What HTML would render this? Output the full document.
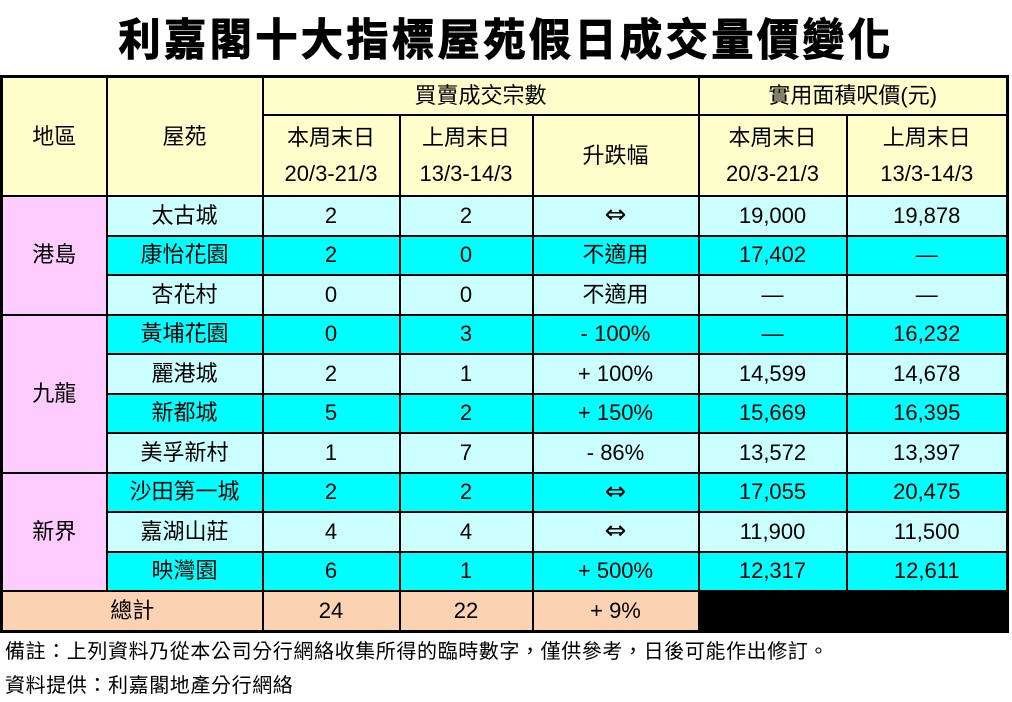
<!DOCTYPE html>
<html><head><meta charset="utf-8"><style>
body{margin:0;width:1012px;height:702px;background:#fff;position:relative;overflow:hidden;font-family:"Liberation Sans","Noto Sans CJK TC",sans-serif;color:#000}
.t{position:absolute;left:0;top:8px;width:1012px;text-align:center;font-size:44px;font-weight:bold;letter-spacing:3.5px;line-height:56px;font-family:"Noto Sans CJK TC","WenQuanYi Zen Hei",sans-serif;-webkit-text-stroke:1px #000;transform:scaleX(0.96)}
table{position:absolute;left:0px;top:75px;border-collapse:collapse;table-layout:fixed;width:1006px;border:3px solid #000}
td{border:2px solid #000;text-align:center;vertical-align:middle;font-size:22px;padding:0;line-height:26px;overflow:hidden}
.h{background:#ffffcc}.p{background:#ffccff}.l{background:#ccffff}.c{background:#00ffff}.o{background:#fbd3b3}.k{background:#000}
tr.d td{height:37.5px}
.a{font-size:26px;font-family:"DejaVu Sans",sans-serif}
.n{position:absolute;left:5px;font-size:20px;letter-spacing:0.6px;font-family:"Liberation Sans","Noto Sans CJK TC",sans-serif}
</style></head><body>
<div class="t">利嘉閣十大指標屋苑假日成交量價變化</div>
<table>
<colgroup><col style="width:105px"><col style="width:156px"><col style="width:137px"><col style="width:133px"><col style="width:166px"><col style="width:148px"><col style="width:161px"></colgroup>
<tr><td class="h" rowspan="2">地區</td><td class="h" rowspan="2">屋苑</td><td class="h" colspan="3" style="height:36px">買賣成交宗數</td><td class="h" colspan="2">實用面積呎價(元)</td></tr>
<tr><td class="h" style="height:79px;line-height:36px">本周末日<br>20/3-21/3</td><td class="h" style="line-height:36px">上周末日<br>13/3-14/3</td><td class="h">升跌幅</td><td class="h" style="line-height:36px">本周末日<br>20/3-21/3</td><td class="h" style="line-height:36px">上周末日<br>13/3-14/3</td></tr>
<tr class="d"><td class="p" rowspan="3">港島</td><td class="l">太古城</td><td class="l">2</td><td class="l">2</td><td class="l"><span class="a">⇔</span></td><td class="l">19,000</td><td class="l">19,878</td></tr>
<tr class="d"><td class="c">康怡花園</td><td class="c">2</td><td class="c">0</td><td class="c">不適用</td><td class="c">17,402</td><td class="c">—</td></tr>
<tr class="d"><td class="l">杏花村</td><td class="l">0</td><td class="l">0</td><td class="l">不適用</td><td class="l">—</td><td class="l">—</td></tr>
<tr class="d"><td class="p" rowspan="4">九龍</td><td class="c">黃埔花園</td><td class="c">0</td><td class="c">3</td><td class="c">- 100%</td><td class="c">—</td><td class="c">16,232</td></tr>
<tr class="d"><td class="l">麗港城</td><td class="l">2</td><td class="l">1</td><td class="l">+ 100%</td><td class="l">14,599</td><td class="l">14,678</td></tr>
<tr class="d"><td class="c">新都城</td><td class="c">5</td><td class="c">2</td><td class="c">+ 150%</td><td class="c">15,669</td><td class="c">16,395</td></tr>
<tr class="d"><td class="l">美孚新村</td><td class="l">1</td><td class="l">7</td><td class="l">- 86%</td><td class="l">13,572</td><td class="l">13,397</td></tr>
<tr class="d"><td class="p" rowspan="3">新界</td><td class="c">沙田第一城</td><td class="c">2</td><td class="c">2</td><td class="c"><span class="a">⇔</span></td><td class="c">17,055</td><td class="c">20,475</td></tr>
<tr class="d"><td class="l">嘉湖山莊</td><td class="l">4</td><td class="l">4</td><td class="l"><span class="a">⇔</span></td><td class="l">11,900</td><td class="l">11,500</td></tr>
<tr class="d"><td class="c">映灣園</td><td class="c">6</td><td class="c">1</td><td class="c">+ 500%</td><td class="c">12,317</td><td class="c">12,611</td></tr>
<tr class="d"><td class="o" colspan="2">總計</td><td class="o">24</td><td class="o">22</td><td class="o">+ 9%</td><td class="k" colspan="2"></td></tr>
</table>
<div class="n" style="top:635px">備註：上列資料乃從本公司分行網絡收集所得的臨時數字，僅供參考，日後可能作出修訂。</div>
<div class="n" style="top:669px">資料提供：利嘉閣地產分行網絡</div>
</body></html>
